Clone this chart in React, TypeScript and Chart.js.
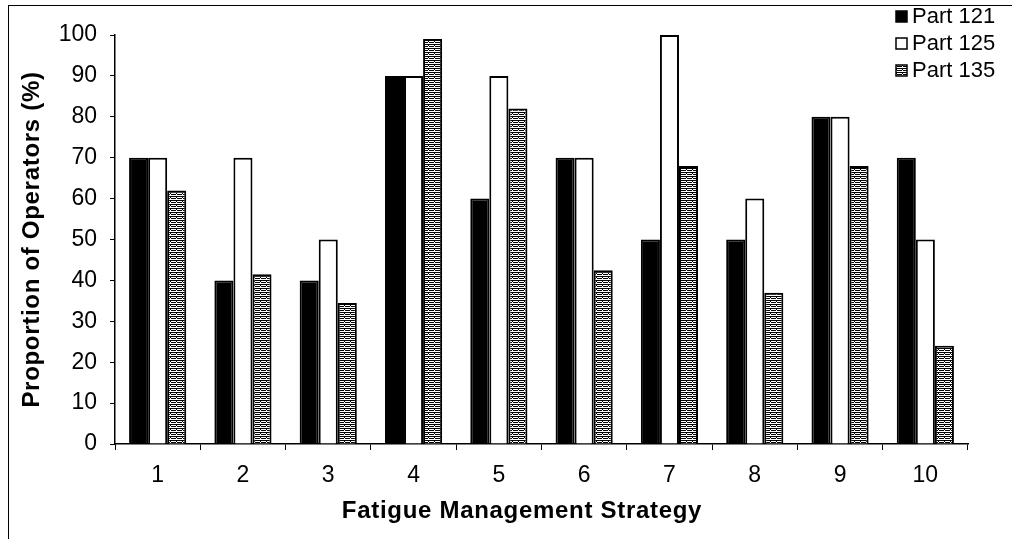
import React, { useEffect, useRef } from "react";
import { Chart, registerables } from "chart.js";

Chart.register(...registerables);

const categories = ["1", "2", "3", "4", "5", "6", "7", "8", "9", "10"];
const part121 = [70, 40, 40, 90, 60, 70, 50, 50, 80, 70];
const part125 = [70, 70, 50, 90, 90, 70, 100, 60, 80, 50];
const part135 = [62, 41.5, 34.5, 99, 82, 42.5, 68, 37, 68, 24];
const seriesNames = ["Part 121", "Part 125", "Part 135"];
const yMin = 0;
const yMax = 100;
const yStep = 10;
const xTitle = "Fatigue Management Strategy";
const yTitle = "Proportion of Operators (%)";

const FONT = "'Liberation Sans', Arial, sans-serif";

function makePattern(): CanvasPattern | string {
  const c = document.createElement("canvas");
  c.width = 6;
  c.height = 4;
  const g = c.getContext("2d");
  if (!g) return "#999";
  g.fillStyle = "#fff";
  g.fillRect(0, 0, 6, 4);
  g.fillStyle = "#000";
  g.fillRect(0, 0, 6, 1);
  g.fillRect(0, 2, 2, 1);
  g.fillRect(3, 2, 3, 1);
  g.fillRect(2, 1, 1, 1);
  const p = g.createPattern(c, "repeat");
  return p || "#999";
}

export default function App() {
  const ref = useRef<HTMLCanvasElement | null>(null);

  useEffect(() => {
    document.body.style.margin = "0";
    const canvas = ref.current;
    if (!canvas) return;
    const pattern = makePattern();
    const fills = ["#000000", "#ffffff", pattern];

    const decorPlugin = {
      id: "decor",
      afterDraw(chart: any) {
        const ctx = chart.ctx;
        const area = chart.chartArea;
        // legend
        ctx.save();
        const rows = [16, 43, 70];
        seriesNames.forEach((name, i) => {
          const y = rows[i];
          ctx.fillStyle = fills[i] as any;
          ctx.fillRect(896, y - 5, 11, 11);
          ctx.strokeStyle = "#000";
          ctx.lineWidth = 1.5;
          ctx.strokeRect(896, y - 5, 11, 11);
          ctx.fillStyle = "#000";
          ctx.font = `22px ${FONT}`;
          ctx.textBaseline = "middle";
          ctx.textAlign = "left";
          ctx.fillText(name, 912, y + 1);
        });
        ctx.restore();
        // axis titles
        ctx.save();
        ctx.fillStyle = "#000";
        ctx.font = `bold 24px ${FONT}`;
        ctx.textAlign = "center";
        ctx.textBaseline = "middle";
        try { (ctx as any).letterSpacing = "0.7px"; } catch (e) { /* ignore */ }
        ctx.fillText(xTitle, 522, 511);
        ctx.translate(32, (area.top + area.bottom) / 2);
        ctx.rotate(-Math.PI / 2);
        ctx.fillText(yTitle, 0, 0);
        ctx.restore();
      },
    };

    const chart = new Chart(canvas, {
      type: "bar",
      data: {
        labels: categories,
        datasets: [
          { label: seriesNames[0], data: part121, backgroundColor: fills[0] as any, borderColor: "#000", borderWidth: 2 },
          { label: seriesNames[1], data: part125, backgroundColor: fills[1] as any, borderColor: "#000", borderWidth: 2 },
          { label: seriesNames[2], data: part135, backgroundColor: fills[2] as any, borderColor: "#000", borderWidth: 2 },
        ],
      },
      options: {
        animation: false,
        responsive: false,
        maintainAspectRatio: false,
        layout: { padding: { left: 0, right: 44, top: 35, bottom: 0 } },
        plugins: { legend: { display: false }, tooltip: { enabled: false } },
        datasets: { bar: { categoryPercentage: 0.67, barPercentage: 1.0 } },
        scales: {
          x: {
            grid: { display: true, offset: true, drawOnChartArea: false, color: "#000", tickLength: 6, lineWidth: 1 },
            border: { display: true, color: "#000", width: 1.5 },
            ticks: { color: "#000", font: { family: FONT, size: 23 }, padding: 12, maxRotation: 0 },
            title: { display: false, text: xTitle },
            afterFit: (s: any) => { s.height = 95; },
          },
          y: {
            min: yMin,
            max: yMax,
            grid: { display: true, drawOnChartArea: false, color: "#000", tickLength: 5, lineWidth: 1 },
            border: { display: true, color: "#000", width: 1.5 },
            ticks: { stepSize: yStep, color: "#000", font: { family: FONT, size: 23 }, padding: 13 },
            title: { display: false, text: yTitle },
            afterFit: (s: any) => { s.width = 115; },
          },
        },
      },
      plugins: [decorPlugin],
    });
    return () => chart.destroy();
  }, []);

  return (
    <div style={{ position: "relative", width: 1012, height: 539, background: "#fff" }}>
      <canvas ref={ref} width={1012} height={539} style={{ position: "absolute", left: 0, top: 0 }} />
      <div style={{ position: "absolute", left: 8, top: 5, width: 1004, height: 534, borderTop: "1.5px solid #000", borderLeft: "1.5px solid #000", pointerEvents: "none" }} />
    </div>
  );
}
